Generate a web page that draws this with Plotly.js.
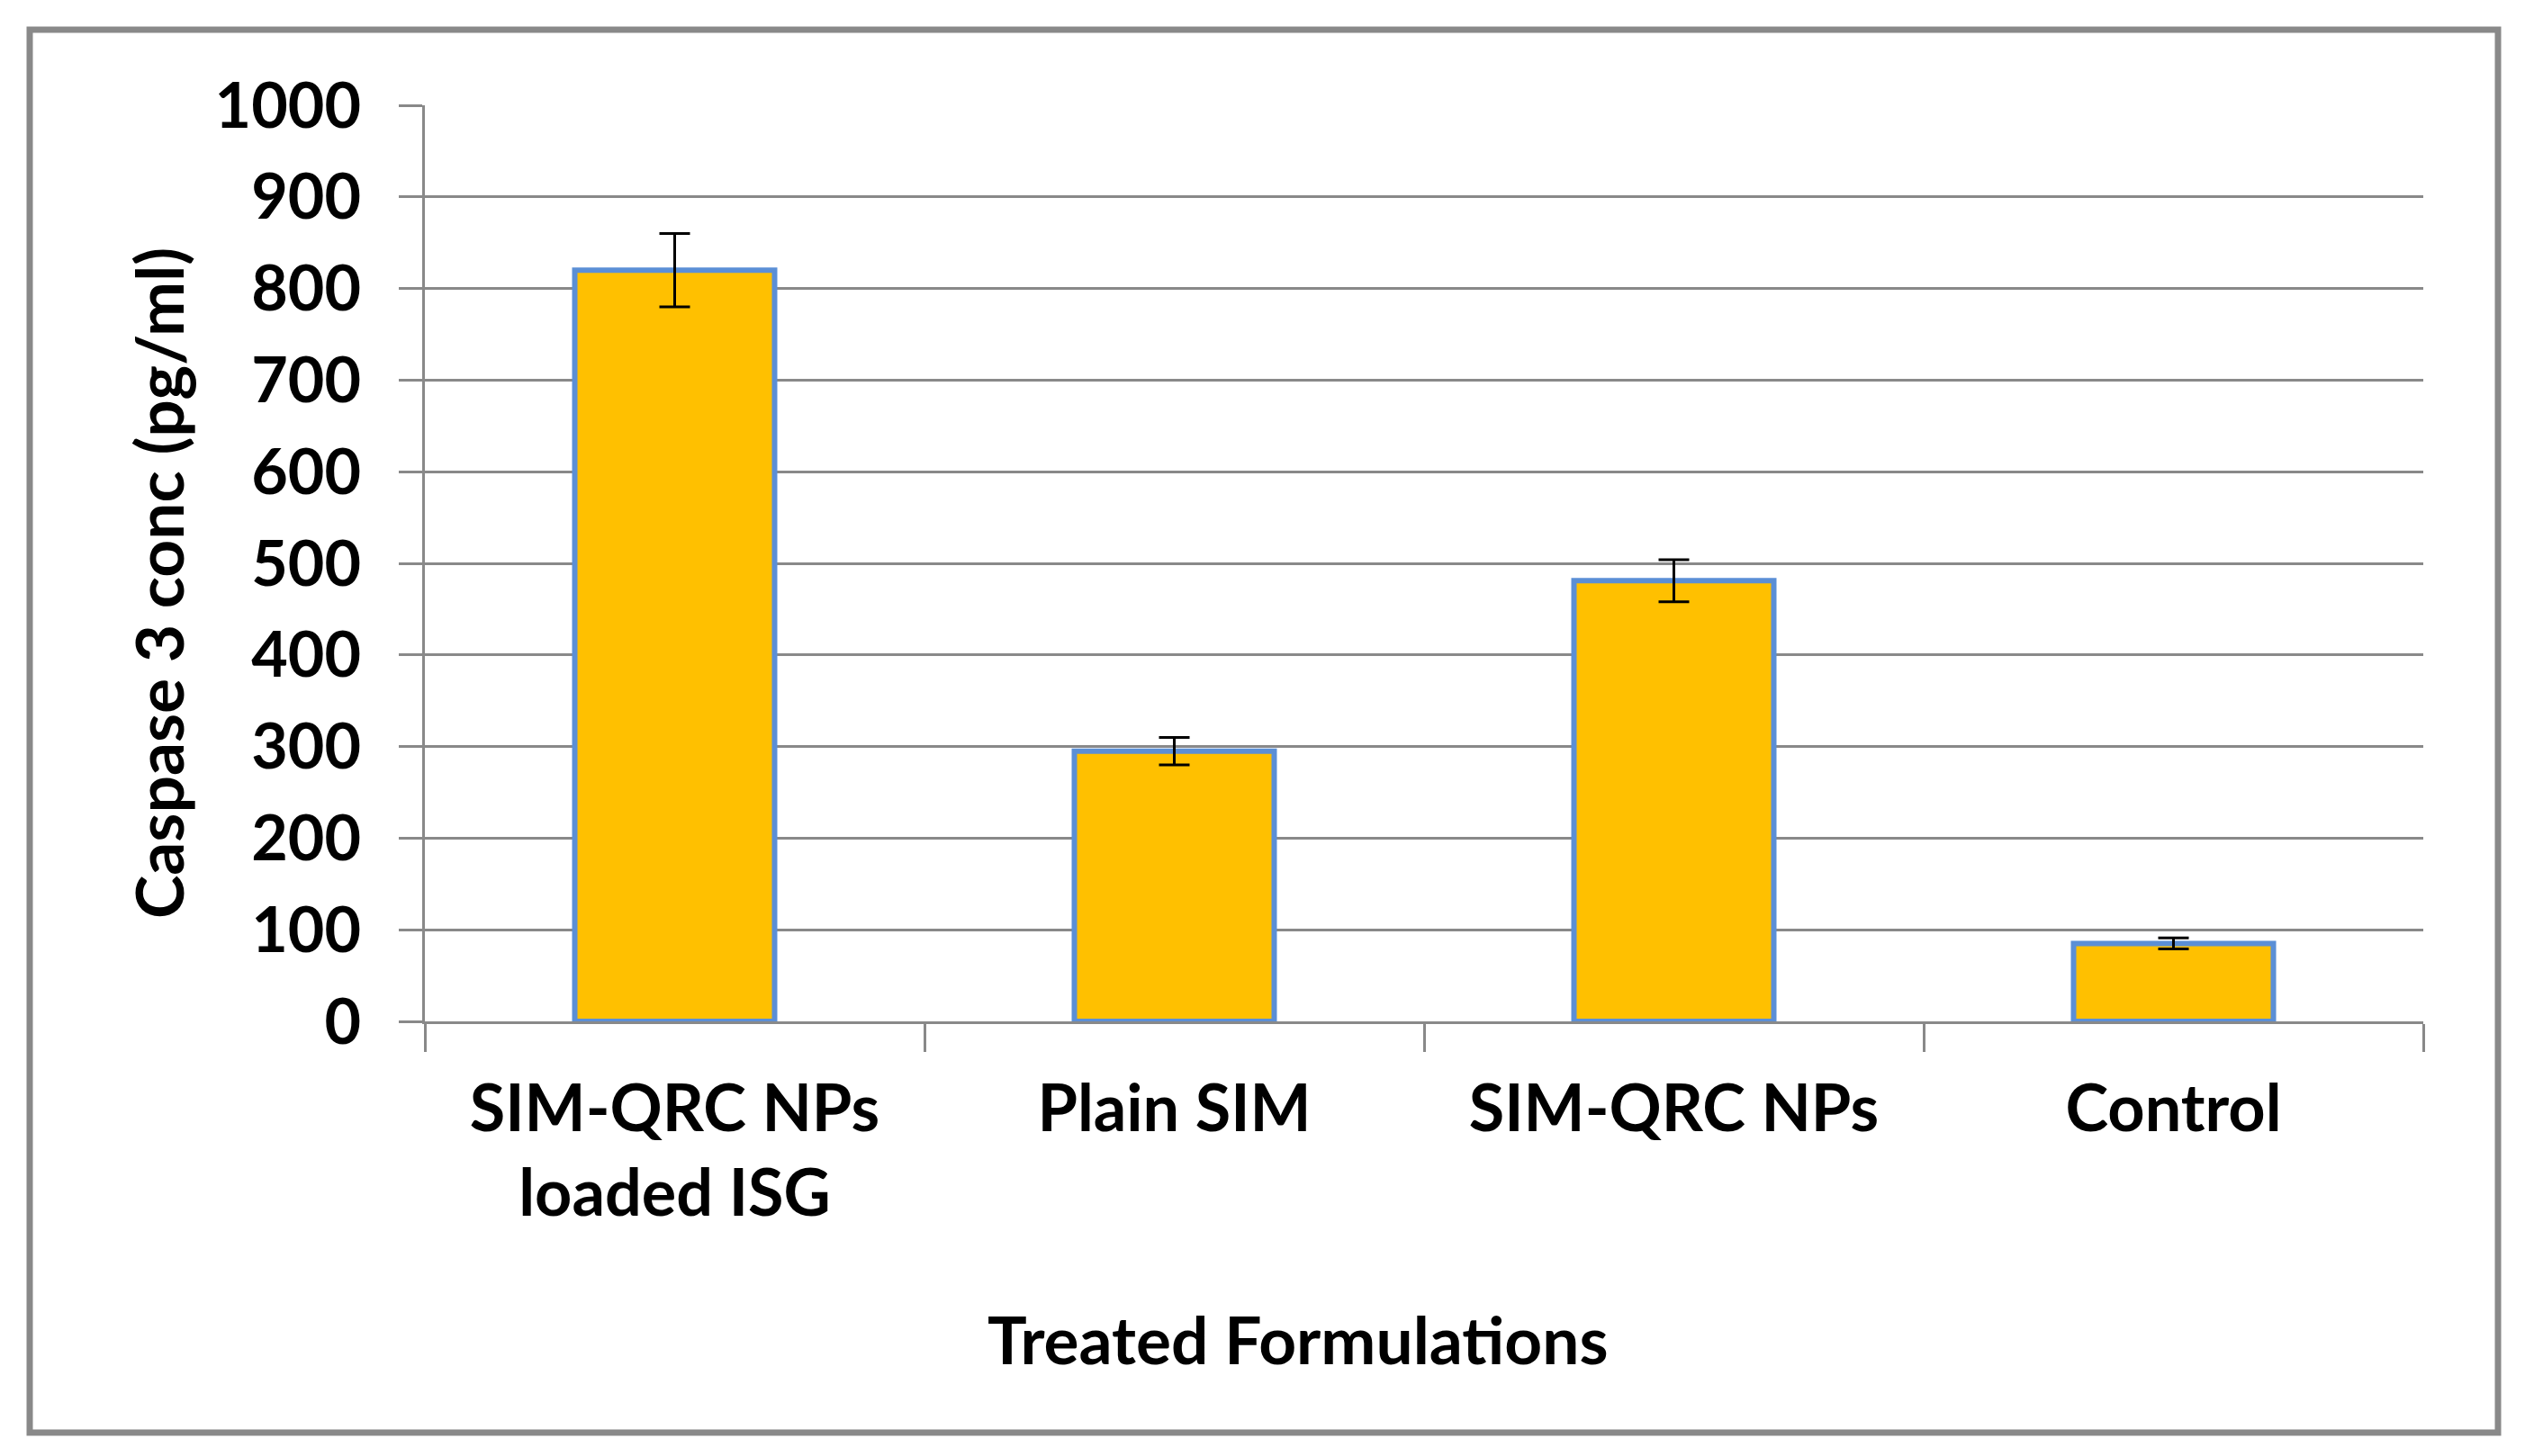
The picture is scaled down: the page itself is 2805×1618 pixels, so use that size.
<!DOCTYPE html>
<html>
<head>
<meta charset="utf-8">
<script src="https://cdn.plot.ly/plotly-3.0.1.min.js"></script>
<style>html,body{margin:0;padding:0;background:#fff;}</style>
</head>
<body>
<div id="chart" style="width:2805px;height:1618px;"></div>
<script>
const categories = ["SIM-QRC NPs<br>loaded ISG", "Plain SIM", "SIM-QRC NPs", "Control"];
const caspaseValues = [820, 295, 481, 85];
const errorValues = [40, 15, 23, 6];
const yTickValues = [0, 100, 200, 300, 400, 500, 600, 700, 800, 900, 1000];
const xTitle = "Treated Formulations";
const yTitle = "Caspase 3 conc (pg/ml)";

const W = 2805, H = 1618;
const M = {l: 472, r: 113, t: 117, b: 483};
const pw = W - M.l - M.r, ph = H - M.t - M.b;
const px = x => (x - M.l) / pw;
const py = y => (H - M.b - y) / ph;

const FONT = {family: "Lato, 'Open Sans', sans-serif", size: 72, color: "#000000", weight: 700};
const TITLEFONT = {family: "Lato, 'Open Sans', sans-serif", size: 73, color: "#000000", weight: 700};
const GRID = "#898989";

const trace = {
  type: "bar",
  x: categories,
  y: caspaseValues,
  width: 0.4,
  marker: {color: "#FFC000", line: {color: "#5B8FD6", width: 6}},
  error_y: {type: "data", array: errorValues, visible: true, color: "#000000", thickness: 3, width: 17},
  hoverinfo: "x+y"
};

const layout = {
  width: W, height: H,
  margin: M,
  paper_bgcolor: "#ffffff",
  plot_bgcolor: "#ffffff",
  showlegend: false,
  font: FONT,
  xaxis: {
    type: "category",
    range: [-0.5, 3.5],
    showgrid: false,
    zeroline: false,
    showline: true, linecolor: GRID, linewidth: 3,
    ticks: "outside", tickson: "boundaries", ticklen: 31, tickwidth: 3, tickcolor: GRID,
    tickfont: FONT,
    ticklabelstandoff: 33
  },
  yaxis: {
    range: [0, 1000],
    tickvals: yTickValues,
    ticktext: yTickValues.map(String),
    showgrid: true, gridcolor: GRID, gridwidth: 3,
    zeroline: false,
    showline: true, linecolor: GRID, linewidth: 3,
    ticks: "outside", ticklen: 26, tickwidth: 3, tickcolor: GRID,
    tickfont: {family: "Lato, 'Open Sans', sans-serif", size: 70, color: "#000000", weight: 700},
    ticklabelstandoff: 28
  },
  annotations: [
    {text: xTitle, xref: "paper", yref: "paper", x: px(1442), y: py(1488), xanchor: "center", yanchor: "middle", showarrow: false, font: TITLEFONT},
    {text: yTitle, xref: "paper", yref: "paper", x: px(176), y: py(648), xanchor: "center", yanchor: "middle", textangle: -90, showarrow: false, font: TITLEFONT}
  ],
  shapes: [
    {type: "rect", xref: "paper", yref: "paper", x0: px(33), x1: px(2775), y0: py(1592), y1: py(33), line: {color: "#898989", width: 7}, fillcolor: "rgba(0,0,0,0)"}
  ]
};

Plotly.newPlot("chart", [trace], layout, {displayModeBar: false, staticPlot: true});
</script>
</body>
</html>
